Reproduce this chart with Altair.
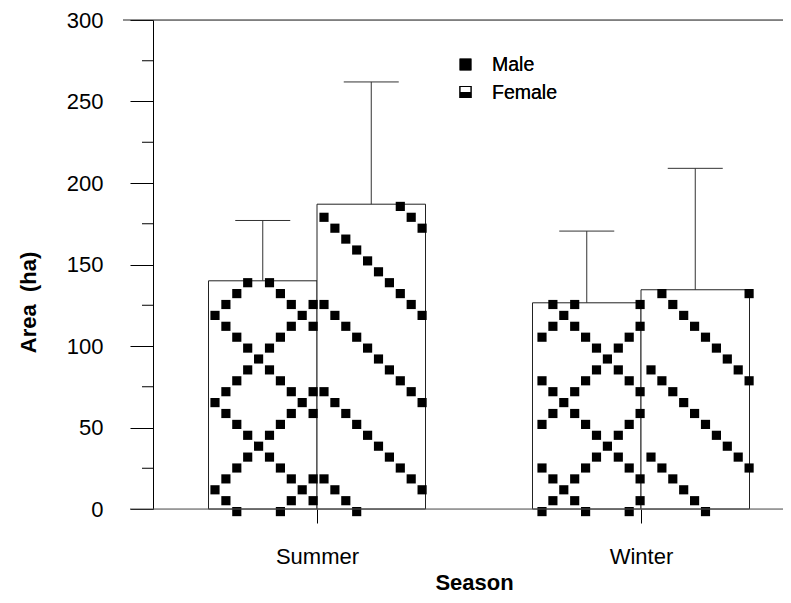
import json
import numpy as np
import pandas as pd
import altair as alt

# ---- data ----
seasons = ["Summer", "Winter"]
sexes = ["Male", "Female"]
male_mean = [140, 126.5]
male_se = [37, 44]
female_mean = [187, 134.5]
female_se = [75, 74.5]
y_major = [0, 50, 100, 150, 200, 250, 300]
y_minor = [25, 75, 125, 175, 225, 275]

# ---- layout constants (pixels) ----
W, H = 630, 489
X_STEP = 324.0      # px between season centres
X_LEFT = 164.0      # px from plot left to first season centre
BAR = 108.5         # px width of one bar
CAP = 55.0          # px width of error cap
Y_MAX = 300
PX_Y = H / Y_MAX
xdom = [-X_LEFT / X_STEP, (W - X_LEFT) / X_STEP]
FONT = "Liberation Sans"

# ---- bar table ----
rows = []
for k, season in enumerate(seasons):
    for sex, mean, se in ((sexes[0], male_mean[k], male_se[k]),
                          (sexes[1], female_mean[k], female_se[k])):
        left = k * X_STEP - (BAR if sex == sexes[0] else 0.0)
        centre = left + BAR / 2
        rows.append({
            "season": season, "sex": sex, "mean": mean, "top": mean + se,
            "x0": left / X_STEP, "x1": (left + BAR) / X_STEP,
            "xc": centre / X_STEP,
            "c0": (centre - CAP / 2) / X_STEP, "c1": (centre + CAP / 2) / X_STEP,
        })
bars = pd.DataFrame(rows)

# ---- fill pattern (black squares on a diagonal lattice) ----
S, V0, U0 = 10.9, 7.0, 30.1
pat = []
for r in rows:
    left, right = r["x0"] * X_STEP, r["x1"] * X_STEP
    utop = r["mean"] * PX_Y
    for i in range(int(np.floor((left - V0) / S)) - 1, int(np.ceil((right - V0) / S)) + 2):
        v = V0 + i * S
        if not (left <= v <= right):
            continue
        for m in range(-4, int(utop / S) + 3):
            u = U0 + m * S
            if u < -5 or u > utop - 1:
                continue
            if r["sex"] == sexes[0]:
                ok = (i + m) % 8 == 5 or (i - m) % 8 == 7
            else:
                ok = (i + m) % 8 == 0
            if ok:
                pat.append({"x": v / X_STEP, "y": u / PX_Y})
pattern = pd.DataFrame(pat)

xscale = alt.Scale(domain=xdom, nice=False, zero=False)
yscale = alt.Scale(domain=[0, Y_MAX], nice=False, zero=True)
label_expr = json.dumps(seasons) + "[datum.value]"

xaxis = alt.Axis(values=[0, 1], labelExpr=label_expr, title="Season",
                 domain=False, grid=False, ticks=True, tickSize=14, tickColor="black",
                 labels=True, labelPadding=23, labelFontSize=22, labelFont=FONT,
                 labelColor="black", titleFont=FONT, titleFontSize=22,
                 titleFontWeight="bold", titleColor="black",
                 titleX=321, titleY=80, titleBaseline="alphabetic", titleAlign="center")
yaxis = alt.Axis(values=y_major, title="Area\u00a0 (ha)", grid=False,
                 domain=True, ticks=True, labels=True,
                 tickSize=23, tickColor="black", domainColor="black",
                 labelPadding=27, labelFontSize=22, labelFont=FONT,
                 labelColor="black", titleFont=FONT, titleFontSize=22,
                 titleFontWeight="bold", titleColor="black",
                 titleAngle=270, titleX=-125, titleY=282,
                 titleAlign="center", titleBaseline="middle")

base = alt.Chart(bars)

bar_layer = base.mark_rect(fill="white", stroke="#222", strokeWidth=1).encode(
    x=alt.X("x0:Q", scale=xscale, axis=xaxis),
    x2="x1:Q",
    y=alt.Y("mean:Q", scale=yscale, axis=yaxis),
    y2=alt.datum(0),
)

pattern_layer = alt.Chart(pattern).mark_square(color="black", opacity=1, size=84,
                                               strokeWidth=0).encode(
    x=alt.X("x:Q", scale=xscale, axis=xaxis),
    y=alt.Y("y:Q", scale=yscale, axis=yaxis),
)

err_v = base.mark_rule(color="#333", strokeWidth=1).encode(
    x=alt.X("xc:Q", scale=xscale, axis=xaxis),
    y=alt.Y("mean:Q", scale=yscale, axis=yaxis),
    y2="top:Q",
)
err_cap = base.mark_rule(color="#333", strokeWidth=1).encode(
    x=alt.X("c0:Q", scale=xscale, axis=xaxis),
    x2="c1:Q",
    y=alt.Y("top:Q", scale=yscale, axis=yaxis),
)

minor = alt.Chart(pd.DataFrame({"v": y_minor})).mark_rule(color="black").encode(
    x=alt.value(-11), x2=alt.value(0),
    y=alt.Y("v:Q", scale=yscale, axis=yaxis),
)
top_line = alt.Chart(pd.DataFrame({"v": [Y_MAX]})).mark_rule(color="#222").encode(
    x=alt.value(-30), x2=alt.value(W),
    y=alt.Y("v:Q", scale=yscale, axis=yaxis),
)
base_line = alt.Chart(pd.DataFrame({"v": [0]})).mark_rule(color="#555").encode(
    x=alt.value(-23), x2=alt.value(W),
    y=alt.Y("v:Q", scale=yscale, axis=yaxis),
)

# ---- legend ----
LX, LY1, LY2 = 312.5, 44.5, 72
leg_df = pd.DataFrame({"sex": sexes})
leg_male = alt.Chart(leg_df).mark_square(color="black", opacity=1, size=140).encode(
    x=alt.value(LX), y=alt.value(LY1))
leg_fem_box = alt.Chart(leg_df).mark_square(fill="white", stroke="black", strokeWidth=1.2,
                                            opacity=1, size=120).encode(
    x=alt.value(LX), y=alt.value(LY2))
leg_fem_half = alt.Chart(leg_df).mark_rect(color="black").encode(
    x=alt.value(LX - 5.5), x2=alt.value(LX + 5.5),
    y=alt.value(LY2), y2=alt.value(LY2 + 5.5))
leg_text_m = alt.Chart(leg_df).mark_text(align="left", baseline="middle", fontSize=19.5,
                                         font=FONT, color="black").encode(
    x=alt.value(339), y=alt.value(LY1), text=alt.value(sexes[0]))
leg_text_f = alt.Chart(leg_df).mark_text(align="left", baseline="middle", fontSize=19.5,
                                         font=FONT, color="black").encode(
    x=alt.value(339), y=alt.value(LY2 + 0.5), text=alt.value(sexes[1]))

chart = alt.layer(
    bar_layer, pattern_layer, err_v, err_cap, minor, top_line, base_line,
    leg_male, leg_fem_box, leg_fem_half, leg_text_m, leg_text_f,
).properties(
    width=W, height=H,
    autosize=alt.AutoSizeParams(type="none"),
    padding={"left": 145, "top": 12, "right": 0, "bottom": 86},
).configure_view(stroke=None).configure(background="white")

chart.save("out.html", embed_options={"renderer": "svg", "actions": False})
